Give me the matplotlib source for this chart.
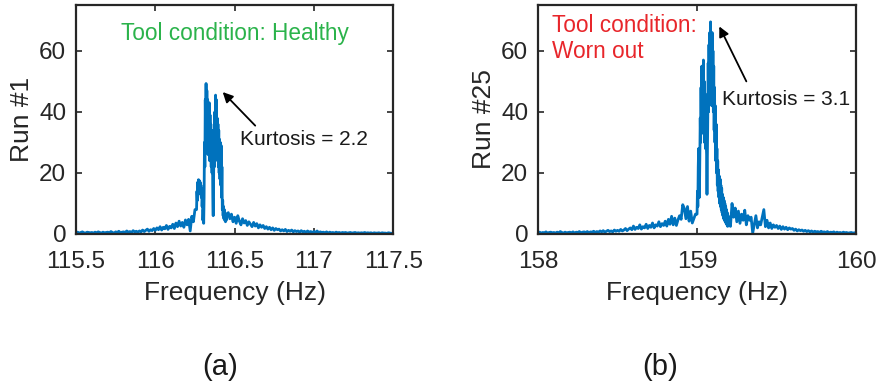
import numpy as np
import matplotlib
matplotlib.use("Agg")
import matplotlib.pyplot as plt

plt.rcParams['font.family'] = ['Liberation Sans', 'DejaVu Sans']

# ---- Run #1 (healthy tool) ----
# lower tail, 115.50-116.25 Hz, 0.01 Hz bins
run1_low = [
    0.4, 0.6, 0.3, 0.5, 0.7, 0.4, 0.3, 0.6, 0.5, 0.4,
    0.5, 0.3, 0.6, 0.4, 0.7, 0.5, 0.3, 0.6, 0.4, 0.5,
    0.6, 0.4, 0.8, 0.5, 0.3, 0.7, 0.5, 0.9, 0.4, 0.6,
    0.7, 0.5, 1.0, 0.6, 0.8, 0.5, 1.1, 0.7, 0.9, 0.6,
    1.0, 0.7, 1.3, 0.8, 1.2, 1.6, 0.9, 1.4, 1.1, 1.8,
    1.2, 2.0, 1.4, 2.4, 1.3, 2.2, 1.7, 2.8, 1.5, 2.5,
    2.0, 3.2, 1.8, 3.6, 2.4, 4.2, 2.6, 3.8, 2.2, 4.6,
    3.0, 4.8, 1.0, 5.8, 4.0, 8.0,
]
# peak, 116.26-116.45 Hz, 0.0025 Hz bins
run1_peak = [
    8.0, 14.0, 11.0, 17.0, 14.0, 17.8, 15.0, 17.5, 14.0, 17.0,
    13.0, 16.0, 12.0, 15.0, 9.0, 12.0, 4.5, 8.0, 3.5, 12.0,
    30.0, 22.0, 44.0, 30.0, 49.3, 28.0, 47.0, 32.0, 44.0, 26.0,
    41.0, 30.0, 43.0, 24.0, 39.0, 28.0, 36.0, 22.0, 34.0, 20.0,
    30.0, 12.0, 6.0, 18.0, 30.0, 22.0, 40.0, 28.0, 45.5, 30.0,
    44.0, 26.0, 38.0, 24.0, 36.0, 22.0, 34.0, 20.0, 31.0, 18.0,
    30.0, 16.0, 29.0, 12.0, 22.0, 8.0, 11.0, 6.0, 9.0, 5.0,
    8.0, 4.5, 7.0, 4.0, 6.5, 4.5, 5.5,
]
# upper tail, 116.46-117.50 Hz, 0.01 Hz bins
run1_high = [
    7.0, 5.0, 6.5, 4.0,
    5.5, 3.5, 6.0, 4.2, 3.0, 5.0, 3.6, 4.4, 2.8, 4.0,
    3.2, 2.4, 3.8, 2.6, 3.4, 2.0, 3.0, 2.2, 2.8, 1.8,
    2.4, 1.6, 2.2, 1.4, 2.0, 1.2, 1.8, 1.4, 1.6, 1.0,
    1.4, 1.0, 1.5, 0.8, 1.2, 0.9, 1.3, 0.7, 1.1, 0.8,
    1.0, 0.6, 1.1, 0.7, 0.9, 0.5, 1.0, 0.6, 0.8, 0.5,
    0.8, 0.5, 1.0, 0.4, 0.7, 0.5, 0.6, 0.4, 0.7, 0.3,
    0.6, 0.4, 0.5, 0.3, 0.6, 0.4, 0.5, 0.3, 0.5, 0.4,
    0.5, 0.3, 0.4, 0.5, 0.3, 0.4, 0.5, 0.3, 0.4, 0.3,
    0.4, 0.3, 0.5, 0.3, 0.4, 0.3, 0.4, 0.2, 0.4, 0.3,
    0.3, 0.4, 0.2, 0.4, 0.3, 0.3, 0.2, 0.4, 0.3, 0.2,
    0.3,
]

# ---- Run #25 (worn tool) ----
# lower tail, 158.00-158.99 Hz, 0.01 Hz bins
run25_low = [
    0.4, 0.6, 0.3, 0.5, 0.4, 0.7, 0.3, 0.5, 0.6, 0.4,
    0.5, 0.3, 0.6, 0.4, 0.8, 0.5, 0.3, 0.6, 0.4, 0.5,
    0.6, 0.4, 0.7, 0.3, 0.6, 0.5, 0.8, 0.4, 0.6, 0.7,
    0.5, 0.8, 0.4, 0.7, 0.6, 0.9, 0.5, 0.8, 0.6, 1.0,
    0.7, 1.1, 0.6, 0.9, 1.2, 0.8, 1.0, 0.7, 1.3, 0.9,
    1.2, 0.9, 1.5, 1.0, 1.3, 1.8, 1.1, 1.6, 2.0, 1.4,
    2.6, 1.5, 2.2, 1.8, 3.0, 1.6, 2.4, 2.0, 3.2, 1.8,
    2.8, 2.2, 3.6, 2.0, 3.0, 2.6, 4.0, 2.4, 3.4, 2.8,
    4.2, 2.6, 4.8, 3.2, 5.8, 3.0, 5.2, 2.8, 4.6, 6.0,
    4.8, 9.6, 8.4, 5.0, 9.0, 4.2, 7.5, 3.6, 5.0, 6.5,
]
# peak, 159.00-159.20 Hz, 0.0025 Hz bins
run25_peak = [
    6.5, 14.0, 9.0, 22.0, 28.0, 18.0, 12.0, 26.0, 38.0, 30.0,
    48.0, 34.0, 55.0, 36.0, 52.0, 33.0, 57.0, 35.0, 50.0, 30.0,
    46.0, 28.0, 40.0, 30.0, 26.0, 13.0, 24.0, 38.0, 56.0, 40.0,
    62.0, 44.0, 66.0, 46.0, 69.5, 50.0, 64.0, 42.0, 66.0, 44.0,
    60.0, 40.0, 55.0, 34.0, 48.0, 30.0, 42.0, 24.0, 36.0, 20.0,
    28.0, 16.0, 24.0, 14.0, 21.0, 12.0, 19.0, 10.0, 18.0, 9.0,
    16.0, 8.0, 15.0, 7.0, 13.0, 6.0, 12.0, 5.0, 11.0, 4.5,
    10.0, 4.0, 9.0, 3.5, 8.0, 3.0, 7.0, 2.5, 6.0, 3.0,
    5.5,
]
# upper tail, 159.21-160.00 Hz, 0.01 Hz bins
run25_high = [
    2.5, 10.0, 5.5, 8.5, 4.0, 7.5, 3.5, 6.5, 4.5,
    7.8, 3.0, 6.0, 4.5, 5.5, 0.3, 3.2, 6.0, 2.0, 4.0,
    3.0, 5.5, 8.0, 2.4, 4.5, 2.0, 3.6, 1.8, 3.0, 2.2,
    2.8, 1.8, 2.6, 1.5, 2.4, 1.6, 2.2, 1.4, 2.0, 1.6,
    1.8, 1.2, 1.6, 1.0, 1.4, 1.1, 1.3, 0.9, 1.2, 0.8,
    1.1, 0.7, 1.0, 0.6, 0.9, 0.7, 0.8, 0.5, 0.9, 0.6,
    0.7, 0.5, 0.8, 0.4, 0.6, 0.5, 0.7, 0.3, 0.6, 0.4,
    0.5, 0.3, 0.6, 0.4, 0.5, 0.3, 0.4, 0.5, 0.3, 0.4,
    0.3,
]

xticks_run1 = [115.5, 116, 116.5, 117, 117.5]
xlabels_run1 = ['115.5', '116', '116.5', '117', '117.5']
xticks_run25 = [158, 159, 160]
xlabels_run25 = ['158', '159', '160']
yticks = [0, 20, 40, 60]

LINE = '#0072bd'
AXC = '#262626'
GREEN = '#2bb34b'
RED = '#e8262b'


def bins(start, step, values):
    return start + step * np.arange(len(values))


freq_run1 = np.concatenate([bins(115.50, 0.01, run1_low),
                            bins(116.26, 0.0025, run1_peak),
                            bins(116.46, 0.01, run1_high)])
amp_run1 = np.concatenate([run1_low, run1_peak, run1_high])

freq_run25 = np.concatenate([bins(158.00, 0.01, run25_low),
                             bins(159.00, 0.0025, run25_peak),
                             bins(159.21, 0.01, run25_high)])
amp_run25 = np.concatenate([run25_low, run25_peak, run25_high])

fig = plt.figure(figsize=(8.81, 3.90), dpi=100)
ax1 = fig.add_axes([0.0863, 0.40, 0.360, 0.587])
ax2 = fig.add_axes([0.6107, 0.40, 0.361, 0.587])


def style(ax, xticks, xlabels, xlim, ylabel):
    ax.set_xlim(*xlim)
    ax.set_ylim(0, 75)
    ax.set_xticks(xticks)
    ax.set_xticklabels(xlabels)
    ax.set_yticks(yticks)
    ax.tick_params(direction='in', top=True, right=True, length=4,
                   width=1.2, color=AXC, labelcolor=AXC, labelsize=17.5)
    ax.tick_params(axis='x', pad=12)
    ax.tick_params(axis='y', pad=7)
    for s in ax.spines.values():
        s.set_color(AXC)
        s.set_linewidth(1.6)
    ax.set_xlabel('Frequency (Hz)', fontsize=19, color=AXC, labelpad=6)
    ax.set_ylabel(ylabel, fontsize=19, color=AXC, labelpad=4)


ax1.plot(freq_run1, amp_run1, color=LINE, lw=2.0)
style(ax1, xticks_run1, xlabels_run1, (115.5, 117.5), 'Run #1')
ax1.text(116.5, 65.8, 'Tool condition: Healthy', color=GREEN, fontsize=16.3,
         ha='center', va='center')
ax1.annotate('', xy=(116.425, 46.5), xytext=(116.63, 35.5),
             arrowprops=dict(arrowstyle='-|>', color='black', lw=1.3,
                             mutation_scale=15, shrinkA=0, shrinkB=0))
ax1.text(116.535, 30.8, 'Kurtosis = 2.2', fontsize=15, color='#1a1a1a',
         ha='left', va='center')

ax2.plot(freq_run25, amp_run25, color=LINE, lw=2.0)
style(ax2, xticks_run25, xlabels_run25, (158, 160), 'Run #25')
ax2.text(158.09, 64.0, 'Tool condition:\nWorn out', color=RED, fontsize=16.3,
         ha='left', va='center', linespacing=1.2)
ax2.annotate('', xy=(159.14, 68.0), xytext=(159.31, 50.0),
             arrowprops=dict(arrowstyle='-|>', color='black', lw=1.3,
                             mutation_scale=15, shrinkA=0, shrinkB=0))
ax2.text(159.155, 43.9, 'Kurtosis = 3.1', fontsize=15, color='#1a1a1a',
         ha='left', va='center')

fig.text(220 / 881, 1 - 367 / 390, '(a)', fontsize=21, color='#1a1a1a',
         ha='center', va='center')
fig.text(660 / 881, 1 - 367 / 390, '(b)', fontsize=21, color='#1a1a1a',
         ha='center', va='center')

fig.savefig('out.png', dpi=100)
